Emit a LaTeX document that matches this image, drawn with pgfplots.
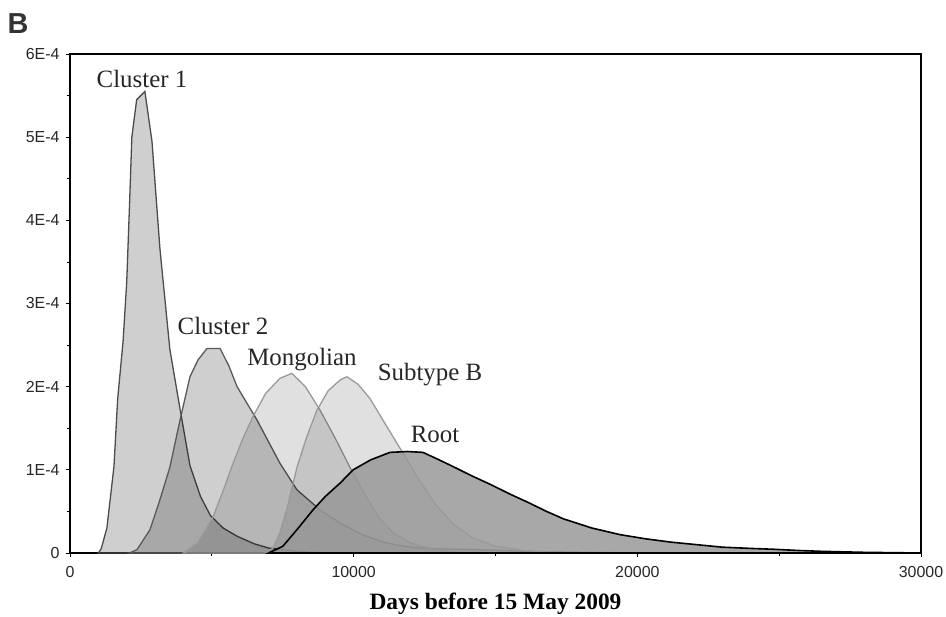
\documentclass[border=0pt]{standalone}
\usepackage{pgfplots}
\pgfplotsset{compat=1.18}
\usepackage{fontspec}
\setmainfont{Liberation Serif}
\newfontfamily\sansf{Liberation Sans}
\begin{document}
\begin{tikzpicture}
\path[use as bounding box] (-70bp,-64bp) rectangle (876bp,553bp);
\begin{axis}[
 at={(0,0)}, anchor=south west,
 width=851bp, height=499bp, scale only axis,
 xmin=0, xmax=30000, ymin=0, ymax=6e-4,
 xtick={0,10000,20000,30000}, xticklabels={0,10000,20000,30000},
 ytick={0,1e-4,2e-4,3e-4,4e-4,5e-4,6e-4},
 yticklabels={0,1E-4,2E-4,3E-4,4E-4,5E-4,6E-4},
 minor x tick num=1, minor y tick num=1,
 scaled x ticks=false, scaled y ticks=false,
 tick align=outside, tick pos=left,
 major tick length=4bp, minor tick length=3bp,
 tick style={black, line width=0.8bp},
 axis line style={black, line width=1.3bp},
 ticklabel style={font=\sansf\fontsize{16}{18}\selectfont, text=black!85},
 xticklabel style={yshift=-6bp},
 yticklabel style={xshift=-3bp},
 xlabel={\bfseries Days before 15 May 2009},
 xlabel style={font=\fontsize{23.5}{25}\selectfont, at={(axis description cs:0.5,0)}, anchor=center, yshift=-51bp},
 clip=false,
]
% Cluster 1
\addplot[draw=black!70, line width=1.3bp, fill=black, fill opacity=0.19] coordinates {
(1000,0)(1100,0.05e-4)(1300,0.3e-4)(1550,1.04e-4)(1680,1.85e-4)(1870,2.54e-4)(2000,3.26e-4)
(2100,4.2e-4)(2180,5.0e-4)(2350,5.45e-4)(2640,5.55e-4)(2890,4.95e-4)(3170,3.66e-4)(3520,2.45e-4)
(3880,1.73e-4)(4230,1.05e-4)(4600,0.68e-4)(4950,0.45e-4)(5400,0.3e-4)(5900,0.2e-4)(6500,0.11e-4)
(7000,0.06e-4)(8000,0.02e-4)(9000,0)} \closedcycle;
% Cluster 2
\addplot[draw=black!65, line width=1.3bp, fill=black, fill opacity=0.19] coordinates {
(2100,0)(2360,0.04e-4)(2820,0.28e-4)(3170,0.64e-4)(3520,1.03e-4)(3880,1.6e-4)(4230,2.12e-4)
(4510,2.32e-4)(4830,2.46e-4)(5290,2.46e-4)(5600,2.25e-4)(5890,2.0e-4)(6590,1.6e-4)(7400,1.08e-4)
(8000,0.76e-4)(8810,0.52e-4)(9520,0.36e-4)(10300,0.22e-4)(11170,0.12e-4)(11980,0.07e-4)
(13000,0.05e-4)(14450,0.04e-4)(16000,0.02e-4)(18000,0.01e-4)(20000,0)} \closedcycle;
% Mongolian
\addplot[draw=black!40, line width=1.3bp, fill=black, fill opacity=0.12] coordinates {
(4000,0)(4500,0.12e-4)(5040,0.43e-4)(5400,0.75e-4)(5750,1.08e-4)(6100,1.38e-4)(6450,1.64e-4)
(6900,1.92e-4)(7400,2.1e-4)(7820,2.16e-4)(8300,2.0e-4)(8810,1.72e-4)(9350,1.38e-4)(9870,1.03e-4)
(10400,0.7e-4)(10900,0.42e-4)(11400,0.24e-4)(12000,0.12e-4)(12700,0.05e-4)(13500,0.01e-4)(14500,0)} \closedcycle;
% Subtype B
\addplot[draw=black!40, line width=1.3bp, fill=black, fill opacity=0.12] coordinates {
(6900,0)(7160,0.06e-4)(7400,0.24e-4)(7700,0.6e-4)(8000,1.03e-4)(8350,1.4e-4)(8710,1.72e-4)
(9100,1.95e-4)(9520,2.08e-4)(9760,2.12e-4)(10150,2.03e-4)(10570,1.86e-4)(11170,1.52e-4)
(11740,1.2e-4)(12300,0.88e-4)(12900,0.58e-4)(13500,0.35e-4)(14200,0.18e-4)(15000,0.08e-4)
(16000,0.03e-4)(17500,0)} \closedcycle;
% Root
\addplot[draw=black, line width=1.6bp, fill=black!40, fill opacity=0.85] coordinates {
(7000,0)(7500,0.08e-4)(8000,0.28e-4)(8570,0.52e-4)(9000,0.68e-4)(9520,0.84e-4)(9980,1.0e-4)
(10600,1.12e-4)(11280,1.21e-4)(11900,1.22e-4)(12440,1.21e-4)(12950,1.13e-4)(13500,1.04e-4)
(14150,0.93e-4)(14850,0.82e-4)(15500,0.71e-4)(16200,0.6e-4)(16800,0.5e-4)(17400,0.41e-4)
(18400,0.3e-4)(19400,0.22e-4)(20300,0.17e-4)(21200,0.13e-4)(22100,0.1e-4)(23000,0.07e-4)
(24000,0.055e-4)(24800,0.045e-4)(25700,0.03e-4)(26500,0.02e-4)(28000,0.008e-4)(30000,0)} \closedcycle;
\begin{scope}[every node/.style={font=\fontsize{25}{27}\selectfont, text=black!85}]
\node at (axis cs:2538,5.70e-4) {Cluster 1};
\node at (axis cs:5394,2.73e-4) {Cluster 2};
\node at (axis cs:8179,2.33e-4) {Mongolian};
\node at (axis cs:12691,2.14e-4) {Subtype B};
\node at (axis cs:12867,1.42e-4) {Root};
\end{scope}
\node[font=\sansf\bfseries\fontsize{29}{30}\selectfont, text=black!80] at (rel axis cs:0,1) [xshift=-52bp, yshift=30bp] {B};
\end{axis}
\end{tikzpicture}
\end{document}
